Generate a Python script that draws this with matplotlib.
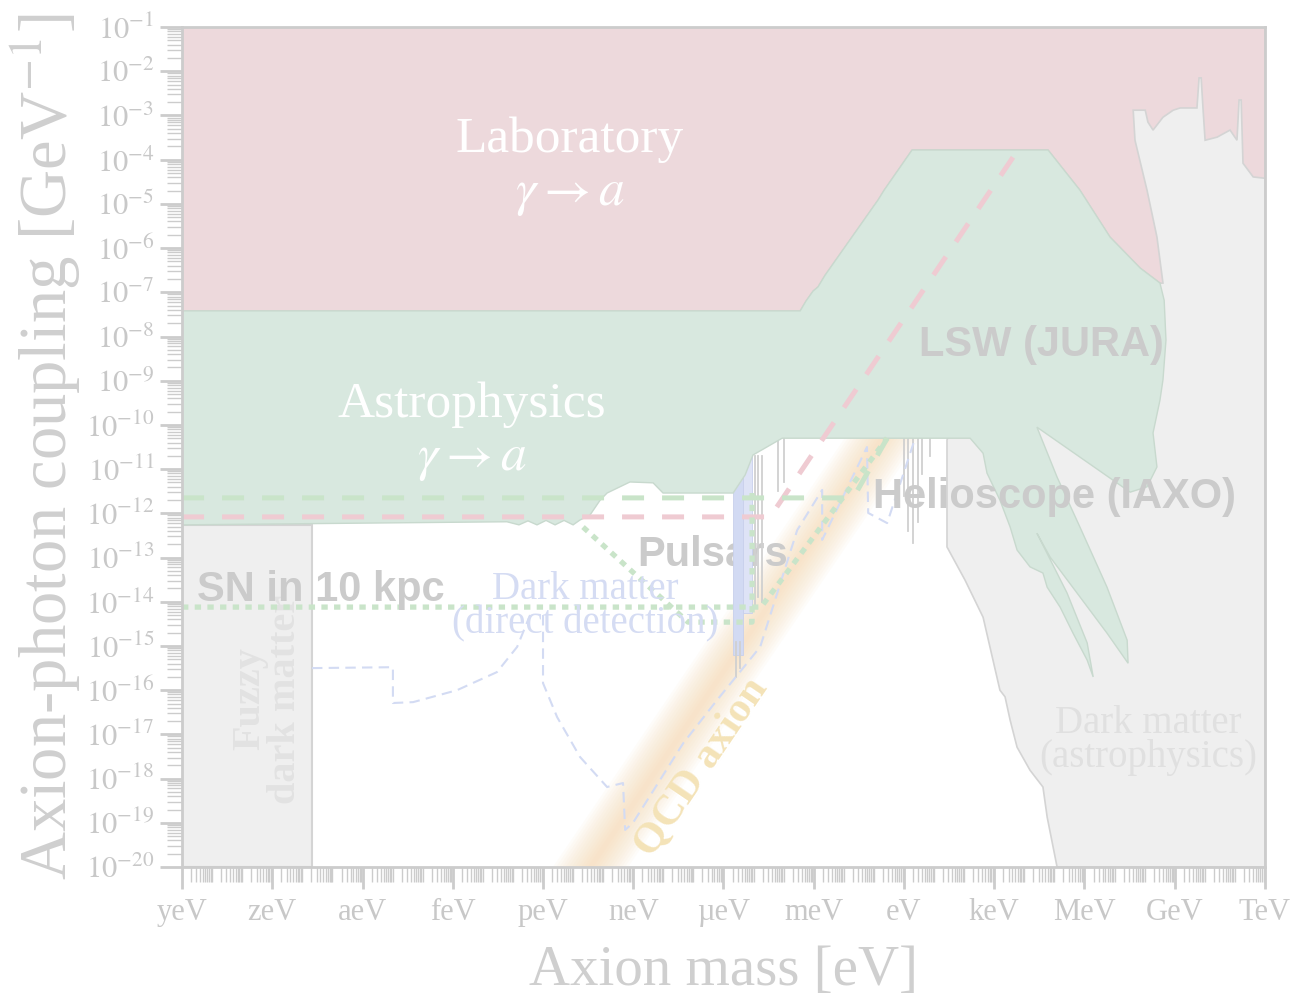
import numpy as np
import matplotlib.pyplot as plt
from matplotlib.ticker import LogLocator, NullFormatter

plt.rcParams['font.family'] = 'Liberation Serif'
plt.rcParams['mathtext.fontset'] = 'stix'

# all limits below are stored as log10(mass / eV) and log10(g / GeV^-1)

# edge shared by the laboratory and astrophysics regions
top_logm = [-24, -3.45, -3.26, -3.02, -2.86, -2.62, -0.86, -0.66, 0.27, 4.79, 5.85, 6.85, 7.85, 8.51]
top_logg = [-7.42, -7.42, -7.20, -6.97, -6.88, -6.61, -4.91, -4.69, -3.78, -3.78, -4.69, -5.75, -6.45, -6.79]

# astrophysics outline: right side, the two fingers, then the lower edge back to the left
astro_logm = [8.65, 8.71, 8.61, 8.51, 8.28, 8.41, 8.08, 7.52, 4.42,
              5.09, 5.85, 6.75, 7.42, 7.45, 6.75, 5.85, 4.86, 4.42,
              5.42, 6.09, 6.29, 6.09, 5.62, 5.19, 4.76, 4.62, 4.19, 3.76, 3.53, 3.19, 2.76, 2.63, 2.20,
              -4.05, -5.02, -5.28, -5.68, -8.01, -8.34, -9.11, -9.87, -10.10, -10.44, -10.77, -11.00,
              -11.3, -11.6, -11.9, -12.2, -12.5, -12.8, -13.2, -24]
astro_logg = [-7.18, -8.08, -8.98, -9.44, -10.18, -10.95, -11.40, -11.52, -10.05,
              -11.18, -12.31, -13.67, -14.87, -15.39, -14.71, -13.89, -12.99, -12.45,
              -13.80, -14.93, -15.70, -15.32, -14.71, -14.12, -13.67, -13.35, -13.21, -12.83, -12.31, -11.70, -11.09, -10.64, -10.30,
              -10.30, -10.68, -11.13, -11.54, -11.54, -11.31, -11.29, -11.54, -11.70, -12.04, -12.15, -12.26,
              -12.16, -12.26, -12.16, -12.26, -12.17, -12.26, -12.19, -12.26]

# dark matter (astrophysics) outline
dmastro_logm = [7.62, 8.02, 8.11, 8.28, 8.61, 8.95, 9.18, 9.74, 9.81, 9.88, 9.94, 10.01, 10.41, 10.84,
                11.07, 11.14, 11.21, 11.27, 11.61, 12.0, 12.0, 5.09, 4.76, 4.62, 4.19, 3.76, 3.53,
                3.36, 3.19, 2.63, 2.03, 1.43, 1.43, 3.19, 8.61, 8.41, 8.08, 7.68]
dmastro_logg = [-2.88, -2.88, -3.15, -3.33, -3.04, -2.88, -2.83, -2.83, -2.15, -2.15, -2.83, -3.56, -3.49, -3.33,
                -3.56, -2.65, -2.65, -4.08, -4.39, -4.42, -20.0, -20.0, -18.87, -18.19, -17.81, -17.29, -16.68,
                -16.15, -16.00, -14.35, -13.51, -12.76, -10.34, -7.18, -6.79, -5.75, -4.69, -3.56]

fuzzy_logm = [-24, -19.68]
fuzzy_logg = [-20, -12.26]

# QCD axion band, centre line
qcd_logm = [-12.5, 0.6]
qcd_logg = [-22.05, -8.95]

# haloscope limits
halo_bar_logm = [(-5.68, -5.35), (-5.35, -5.05)]
halo_bar_logg = [(-15.2, -11.0), (-14.25, -10.7)]
halo_line_logm = [-5.60, -5.45, -4.95, -4.85, -4.72, -4.19, -3.99, 0.00, 0.15, 0.30, 0.45, 0.60, 0.87]
halo_line_top = [-14.9, -14.9, -10.7, -10.7, -10.7, -10.3, -10.3, -10.3, -10.3, -10.3, -10.3, -10.3, -10.3]
halo_line_bottom = [-15.7, -15.5, -14.1, -13.9, -14.0, -11.5, -11.3, -11.6, -12.4, -12.67, -12.2, -11.1, -10.7]

# projected sensitivities
lsw_logm = [-24, -4.45, 3.63]
lsw_logg = [-12.08, -12.08, -3.94]
iaxo_logm = [-24, -1.69, -0.56]
iaxo_logg = [-11.65, -11.65, -10.30]
sn_logm = [-24, -4.75, -0.56]
sn_logg = [-14.12, -14.12, -10.30]
pulsar_logm = [-10.67, -7.18, -5.05, -5.05]
pulsar_logg = [-12.31, -14.46, -14.46, -11.54]
dd1_logm = [-19.68, -16.99, -16.99, -16.32, -14.86, -13.53, -12.86, -12.43]
dd1_logg = [-15.50, -15.48, -16.29, -16.27, -16.00, -15.59, -15.02, -14.30]
dd2_logm = [-12.00, -12.00, -11.53, -10.77, -9.87, -9.34, -9.27, -9.01, -7.34, -6.21, -4.78,
            -3.55, -2.72, -2.72, -1.23, -1.19, -0.56, 0.10, 0.37]
dd2_logg = [-14.30, -15.84, -16.61, -17.51, -18.19, -18.10, -19.16, -19.00, -17.20, -16.22, -15.02,
            -12.38, -11.47, -12.60, -10.50, -11.99, -12.22, -10.86, -10.30]

unit_labels = ['yeV', 'zeV', 'aeV', 'feV', 'peV', 'neV', 'µeV', 'meV', 'eV', 'keV', 'MeV', 'GeV', 'TeV']


def L(a):
    return 10.0 ** np.asarray(a, dtype=float)


pink, pink_edge = '#EDD9DC', '#DECACD'
green, green_edge = '#D8E8DF', '#C8D9CE'
grey, grey_edge = '#EFEFEF', '#D4D4D4'
axis_grey = '#CCCCCC'

fig = plt.figure(figsize=(12.93, 9.99), dpi=100)
ax = fig.add_axes([0.1408, 0.1321, 0.8375, 0.8408])
ax.set_xscale('log')
ax.set_yscale('log')
ax.set_xlim(1e-24, 1e12)
ax.set_ylim(1e-20, 1e-1)

# laboratory region: above the shared edge
lab_m = [-24, 12, 12] + top_logm[::-1]
lab_g = [-1, -1, -8] + top_logg[::-1]
ax.fill(L(lab_m), L(lab_g), facecolor=pink, edgecolor=pink_edge, lw=1, zorder=1)

# dark matter from astrophysics and fuzzy dark matter
ax.fill(L(dmastro_logm), L(dmastro_logg), facecolor=grey, edgecolor=grey_edge, lw=1.2, zorder=2)
ax.fill(L([fuzzy_logm[0], fuzzy_logm[1], fuzzy_logm[1], fuzzy_logm[0]]),
        L([fuzzy_logg[0], fuzzy_logg[0], fuzzy_logg[1], fuzzy_logg[1]]),
        facecolor=grey, edgecolor=grey_edge, lw=1.5, zorder=2)

# QCD band, soft edges built from stacked strips
qm = L(qcd_logm)
for w in np.linspace(1.25, 0.1, 12):
    ax.fill_between(qm, L(np.array(qcd_logg) - w), L(np.array(qcd_logg) + w),
                    color='#F8D1A0', alpha=0.06, lw=0, zorder=1.5)

# haloscopes
for (m0, m1), (g0, g1), c in zip(halo_bar_logm, halo_bar_logg, ['#D2DAF3', '#DEE3F6']):
    ax.fill(L([m0, m1, m1, m0]), L([g0, g0, g1, g1]), facecolor=c, edgecolor='#C8D0EC', lw=0.6, zorder=2.5)
for m, g0, g1 in zip(halo_line_logm, halo_line_top, halo_line_bottom):
    ax.plot(L([m, m]), L([g0, g1]), color='#D0D0D0', lw=1.3, zorder=2.6)

# direct detection projections
ax.plot(L(dd1_logm), L(dd1_logg), color='#D3DBF3', lw=1.5, dashes=(5, 3), zorder=2.7)
ax.plot(L(dd2_logm), L(dd2_logg), color='#D3DBF3', lw=1.5, dashes=(5, 3), zorder=2.7)

# astrophysics region
ax.fill(L(top_logm + astro_logm), L(top_logg + astro_logg),
        facecolor=green, edgecolor=green_edge, lw=1, zorder=3)

# LSW, helioscope and supernova projections
ax.plot(L(lsw_logm), L(lsw_logg), color='#EFCBD2', lw=3.6, dashes=(4.4, 3.6), zorder=4)
ax.plot(L(iaxo_logm), L(iaxo_logg), color='#C9E4C9', lw=3.6, dashes=(4.4, 3.6), zorder=4)
ax.plot(L(sn_logm), L(sn_logg), color='#C9E4C9', lw=3.8, dashes=(1.2, 1.2), zorder=4)
ax.plot(L(pulsar_logm), L(pulsar_logg), color='#C9E4C9', lw=3.8, dashes=(1.2, 1.2), zorder=4)

# region labels
ax.text(L(-11.10), L(-3.56), 'Laboratory', color='white', fontsize=37, ha='center', va='center', zorder=5)
ax.text(L(-11.10), L(-4.80), r'$\gamma \rightarrow a$', color='white', fontsize=37, ha='center', va='center', zorder=5)
ax.text(L(-14.36), L(-9.55), 'Astrophysics', color='white', fontsize=37, ha='center', va='center', zorder=5)
ax.text(L(-14.36), L(-10.79), r'$\gamma \rightarrow a$', color='white', fontsize=37, ha='center', va='center', zorder=5)
ax.text(L(-10.6), L(-14.12), 'Dark matter\n(direct detection)', color='#D5DCF3', fontsize=28,
        ha='center', va='center', linespacing=0.9, zorder=5)
ax.text(L(8.11), L(-17.13), 'Dark matter\n(astrophysics)', color='#E0E0E0', fontsize=28,
        ha='center', va='center', linespacing=0.9, zorder=5)
ax.text(L(-21.14), L(-16.2), 'Fuzzy\ndark matter', color='#E2E2E2', fontsize=29, fontweight='bold',
        rotation=90, ha='center', va='center', linespacing=0.95, zorder=2.2)
ax.text(L(-6.71), L(-17.74), 'QCD axion', color='#F4E3B8', fontsize=31, fontweight='bold',
        rotation=55.8, ha='center', va='center', zorder=5)

sans = dict(family='Liberation Sans', fontweight='bold', fontsize=30, color='#CBCBCB',
            ha='center', va='center')
ax.text(L(-19.38), L(-13.73), 'SN in 10 kpc', zorder=5, **sans)
ax.text(L(-6.35), L(-12.94), 'Pulsars', zorder=2.4, **sans)
ax.text(L(5.02), L(-11.63), 'Helioscope (IAXO)', zorder=5, **sans)
ax.text(L(4.56), L(-8.19), 'LSW (JURA)', zorder=5, **sans)

# axes styling
ax.set_xticks(L(np.arange(-24, 13, 3)))
ax.set_xticklabels(unit_labels)
ax.xaxis.set_minor_locator(LogLocator(base=10, subs=np.arange(1, 10), numticks=100))
ax.xaxis.set_minor_formatter(NullFormatter())
ax.set_yticks(L(np.arange(-20, 0)))
ax.set_yticklabels([r'$10^{%d}$' % k for k in range(-20, 0)])
ax.yaxis.set_minor_locator(LogLocator(base=10, subs=np.arange(2, 10), numticks=100))
ax.yaxis.set_minor_formatter(NullFormatter())

ax.tick_params(which='major', direction='out', length=16, width=2, color=axis_grey,
               labelcolor='#C8C8C8')
ax.tick_params(which='minor', direction='out', length=11, width=1, color=axis_grey)
ax.tick_params(axis='x', labelsize=22, pad=6)
ax.tick_params(axis='y', labelsize=22, pad=4)
for s in ax.spines.values():
    s.set_color(axis_grey)
    s.set_linewidth(2)
    s.set_zorder(6)

ax.set_xlabel('Axion mass [eV]', fontsize=41, color='#CFCFCF', labelpad=13)
ax.set_ylabel('Axion-photon coupling [GeV$^{-1}$]', fontsize=48, color='#CFCFCF', labelpad=2)

fig.savefig('out.png', dpi=100)
